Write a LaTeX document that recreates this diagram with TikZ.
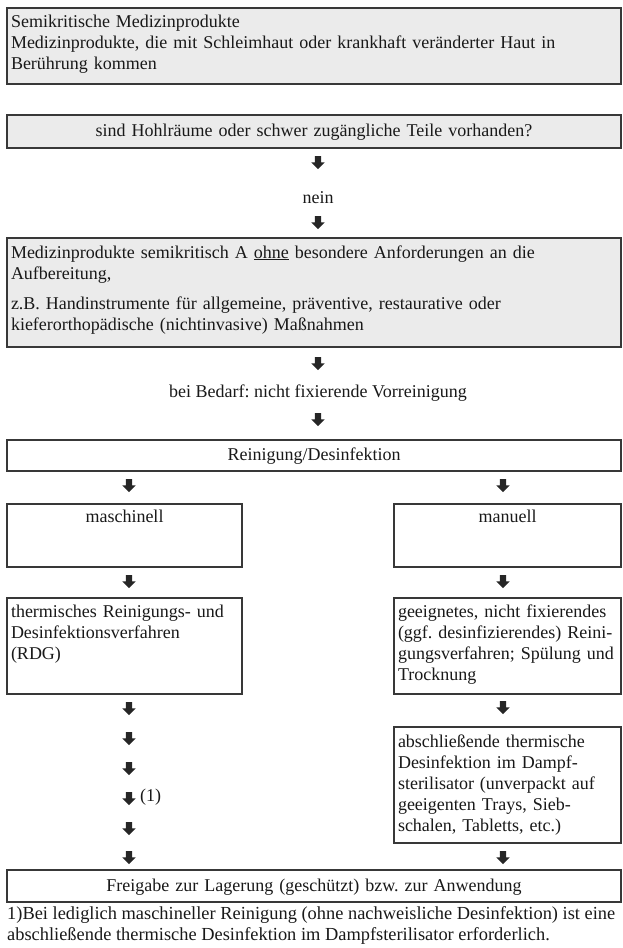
\documentclass[tikz,border=0pt]{standalone}
\usepackage{fontspec}
\setmainfont{Liberation Serif}
\frenchspacing
\usetikzlibrary{shapes.arrows}
\tikzset{
  grey box/.style={
    draw=black!78, line width=1.8pt, fill=black!8, anchor=north west,
    outer sep=0pt, inner xsep=4pt, inner ysep=0pt, align=left
  },
  white box/.style={grey box, fill=white},
  down arrow/.style={
    single arrow, shape border rotate=270, fill=black!85, inner sep=3pt,
    minimum height=13pt, single arrow head extend=3.5pt
  },
  plain text/.style={inner sep=0pt}
}

\begin{document}
\begin{tikzpicture}[x=1pt, y=-1pt, font=\fontsize{18}{21}\selectfont, text=black!90]
    \useasboundingbox (0,0) rectangle (622,948);
    \draw (7,8) node[grey box, text width=606pt, text height=19pt, text depth=57pt] (semi) {Semikritische Medizinprodukte\\Medizinprodukte, die mit Schleimhaut oder krankhaft veränderter Haut in\\Berührung kommen};
    \draw (7,115) node[grey box, text width=606pt, align=center, text height=21pt, text depth=12pt] (hohl) {sind Hohlräume oder schwer zugängliche Teile vorhanden?};
    \draw (318,161) node[down arrow] (a1) {};
    \draw (318,198) node[plain text] (nein) {nein};
    \draw (318,221) node[down arrow] (a2) {};
    \draw (7,238) node[grey box, text width=606pt, text height=20pt, text depth=89pt] (semiA) {Medizinprodukte semikritisch A \underline{ohne} besondere Anforderungen an die\\Aufbereitung,\\[9pt]z.B. Handinstrumente für allgemeine, präventive, restaurative oder\\kieferorthopädische (nichtinvasive) Maßnahmen};
    \draw (318,362) node[down arrow] (a3) {};
    \draw (318,393) node[plain text] (bedarf) {bei Bedarf: nicht fixierende Vorreinigung};
    \draw (318,418) node[down arrow] (a4) {};
    \draw (7,440) node[white box, text width=606pt, align=center, text height=20pt, text depth=11pt] (reinig) {Reinigung/Desinfektion};
    \draw (129,484) node[down arrow] (a5) {};
    \draw (503,484) node[down arrow] (a6) {};
    \draw (7,504) node[white box, text width=227pt, align=center, text height=18pt, text depth=45pt] (masch) {maschinell};
    \draw (394,504) node[white box, text width=219pt, align=center, text height=18pt, text depth=45pt] (manu) {manuell};
    \draw (129,580) node[down arrow] (a7) {};
    \draw (503,580) node[down arrow] (a8) {};
    \draw (7,598) node[white box, text width=227pt, text height=19pt, text depth=77pt] (rdg) {thermisches Reinigungs- und\\Desinfektionsverfahren\\(RDG)};
    \draw (394,598) node[white box, text width=219pt, text height=19pt, text depth=77pt] (manverf) {geeignetes, nicht fixierendes\\(ggf. desinfizierendes) Reini-\\gungsverfahren; Spülung und\\Trocknung};
    \draw (129,707) node[down arrow] (a9) {};
    \draw (129,737) node[down arrow] (a10) {};
    \draw (129,767) node[down arrow] (a11) {};
    \draw (129,797) node[down arrow] (a12) {};
    \draw (140,797) node[plain text, anchor=west] (fn1) {(1)};
    \draw (129,827) node[down arrow] (a13) {};
    \draw (129,856) node[down arrow] (a14) {};
    \draw (503,706) node[down arrow] (a15) {};
    \draw (394,727) node[white box, text width=219pt, text height=20pt, text depth=96pt] (thermdes) {abschließende thermische\\Desinfektion im Dampf-\\sterilisator (unverpackt auf\\geeigenten Trays, Sieb-\\schalen, Tabletts, etc.)};
    \draw (503,856) node[down arrow] (a16) {};
    \draw (7,870) node[white box, text width=606pt, align=center, text height=21pt, text depth=11pt] (freigabe) {Freigabe zur Lagerung (geschützt) bzw. zur Anwendung};
    \draw (7,906) node[plain text, anchor=north west, align=left, font=\fontsize{18.4}{21}\selectfont] (fussnote) {1)Bei lediglich maschineller Reinigung (ohne nachweisliche Desinfektion) ist eine\\abschließende thermische Desinfektion im Dampfsterilisator erforderlich.};
\end{tikzpicture}
\end{document}
